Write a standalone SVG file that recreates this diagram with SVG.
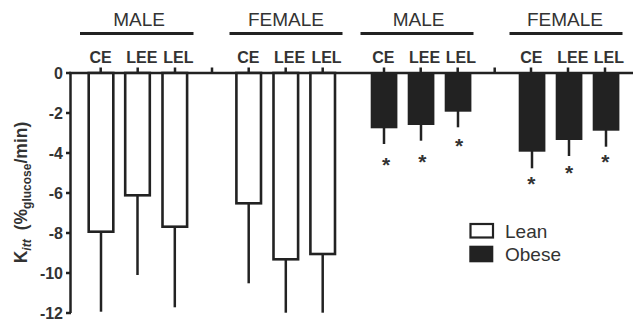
<svg xmlns="http://www.w3.org/2000/svg" width="633" height="323" viewBox="0 0 633 323">
<style>
.hdr{font-family:"Liberation Sans",Arial,sans-serif;font-size:19px;fill:#333;text-anchor:middle}
.sub{font-family:"Liberation Sans",Arial,sans-serif;font-size:16px;font-weight:bold;fill:#333;text-anchor:middle}
.ytl{font-family:"Liberation Sans",Arial,sans-serif;font-size:16px;font-weight:bold;fill:#333;text-anchor:end}
.star{font-family:"Liberation Sans",Arial,sans-serif;font-size:21px;font-weight:bold;fill:#333;text-anchor:middle}
.leg{font-family:"Liberation Sans",Arial,sans-serif;font-size:19px;fill:#333}
.ax{stroke:#222;stroke-width:2.5;fill:none}
.lean{fill:#fff;stroke:#222;stroke-width:2.6}
.obese{fill:#222;stroke:none}
.err{stroke:#222;stroke-width:2.5}
.hl{stroke:#222;stroke-width:3}
</style>
<rect width="633" height="323" fill="#fff"/>
<g id="axes">
  <line class="ax" x1="70.5" y1="73" x2="70.5" y2="313"/>
  <line class="ax" x1="69" y1="73" x2="633" y2="73"/>
  <path class="ax" d="M66 73H71M66 113H71M66 153H71M66 193H71M66 233H71M66 273H71M66 313H71"/>
  <path class="ax" d="M100.7 73V67.5M137.7 73V67.5M175 73V67.5M212 73V67.5M248.7 73V67.5M285.7 73V67.5M322.7 73V67.5M384 73V67.5M420.7 73V67.5M457.7 73V67.5M494.7 73V67.5M531 73V67.5M568 73V67.5M605 73V67.5"/>
  <text class="ytl" x="63" y="79">0</text>
  <text class="ytl" x="63" y="119">-2</text>
  <text class="ytl" x="63" y="159">-4</text>
  <text class="ytl" x="63" y="199">-6</text>
  <text class="ytl" x="63" y="239">-8</text>
  <text class="ytl" x="63" y="279">-10</text>
  <text class="ytl" x="63" y="319">-12</text>
  <text transform="translate(26.5,192.5) rotate(-90)" font-family="'Liberation Sans',Arial,sans-serif" font-size="17.5" font-weight="bold" fill="#333" text-anchor="middle">K<tspan font-size="12" font-style="italic" dy="4">itt</tspan><tspan dx="9" dy="-4">(%</tspan><tspan font-size="12" dy="4">glucose</tspan><tspan dy="-4">/min)</tspan></text>
</g>
<g id="headers">
  <text class="hdr" x="139" y="26">MALE</text>
  <line class="hl" x1="80" y1="33.5" x2="193.5" y2="33.5"/>
  <text class="hdr" x="286" y="26">FEMALE</text>
  <line class="hl" x1="229.5" y1="33.5" x2="342.5" y2="33.5"/>
  <text class="hdr" x="418.5" y="26">MALE</text>
  <line class="hl" x1="360.5" y1="33.5" x2="473.5" y2="33.5"/>
  <text class="hdr" x="565" y="26">FEMALE</text>
  <line class="hl" x1="509.5" y1="33.5" x2="622.5" y2="33.5"/>
  <text class="sub" x="100.5" y="62.5">CE</text>
  <text class="sub" x="141.8" y="62.5">LEE</text>
  <text class="sub" x="178.3" y="62.5">LEL</text>
  <text class="sub" x="248.3" y="62.5">CE</text>
  <text class="sub" x="289.5" y="62.5">LEE</text>
  <text class="sub" x="326.5" y="62.5">LEL</text>
  <text class="sub" x="383.3" y="62.5">CE</text>
  <text class="sub" x="424.5" y="62.5">LEE</text>
  <text class="sub" x="460.8" y="62.5">LEL</text>
  <text class="sub" x="531.3" y="62.5">CE</text>
  <text class="sub" x="572.8" y="62.5">LEE</text>
  <text class="sub" x="608.8" y="62.5">LEL</text>
</g>
<g id="lean-bars">
  <line class="err" x1="101" y1="231.7" x2="101" y2="311.7"/>
  <rect class="lean" x="88.7" y="73" width="24.6" height="158.7"/>
  <line class="err" x1="137.5" y1="195.3" x2="137.5" y2="275"/>
  <rect class="lean" x="125.2" y="73" width="24.6" height="122.3"/>
  <line class="err" x1="174.8" y1="226.7" x2="174.8" y2="307.3"/>
  <rect class="lean" x="162.5" y="73" width="24.6" height="153.7"/>
  <line class="err" x1="248.7" y1="203.3" x2="248.7" y2="283.3"/>
  <rect class="lean" x="236.4" y="73" width="24.6" height="130.3"/>
  <line class="err" x1="285.8" y1="259.3" x2="285.8" y2="312.7"/>
  <rect class="lean" x="273.5" y="73" width="24.6" height="186.3"/>
  <line class="err" x1="322.7" y1="254" x2="322.7" y2="312.7"/>
  <rect class="lean" x="310.4" y="73" width="24.6" height="181"/>
</g>
<g id="obese-bars">
  <line class="err" x1="384" y1="128" x2="384" y2="144"/>
  <rect class="obese" x="370.7" y="73" width="26.7" height="55.3"/>
  <line class="err" x1="421" y1="124" x2="421" y2="140.7"/>
  <rect class="obese" x="407.7" y="73" width="26.7" height="52"/>
  <line class="err" x1="458" y1="111" x2="458" y2="127.3"/>
  <rect class="obese" x="444.7" y="73" width="26.7" height="38.7"/>
  <line class="err" x1="532" y1="151" x2="532" y2="168.3"/>
  <rect class="obese" x="518.7" y="73" width="26.7" height="78.7"/>
  <line class="err" x1="569" y1="139" x2="569" y2="156"/>
  <rect class="obese" x="555.7" y="73" width="26.7" height="67"/>
  <line class="err" x1="606" y1="130" x2="606" y2="146.7"/>
  <rect class="obese" x="592.7" y="73" width="26.7" height="57.7"/>
  <text class="star" x="386" y="172">*</text>
  <text class="star" x="422.3" y="168.7">*</text>
  <text class="star" x="459" y="152.7">*</text>
  <text class="star" x="531.3" y="190.7">*</text>
  <text class="star" x="569" y="180.3">*</text>
  <text class="star" x="605.3" y="169.3">*</text>
</g>
<g id="legend">
  <rect x="470.5" y="224" width="22.5" height="13.5" fill="#fff" stroke="#222" stroke-width="2.2"/>
  <text class="leg" x="505" y="237.5">Lean</text>
  <rect x="469.3" y="245.7" width="24" height="16.6" fill="#222"/>
  <text class="leg" x="505" y="261">Obese</text>
</g>
</svg>
